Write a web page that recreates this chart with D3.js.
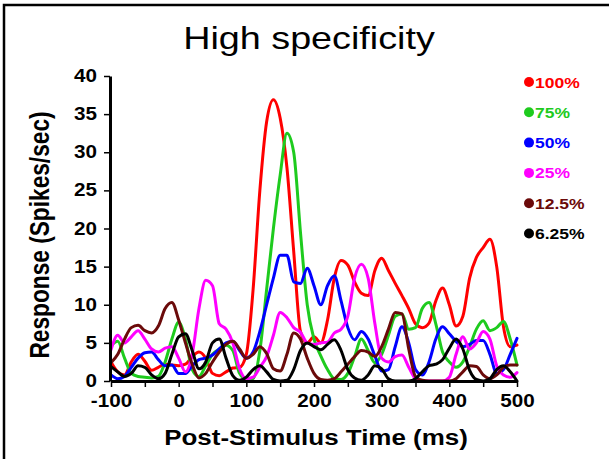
<!DOCTYPE html>
<html><head><meta charset="utf-8">
<script src="https://cdn.jsdelivr.net/npm/d3@7"></script>
<style>body{margin:0;background:#fff}svg{display:block}</style>
</head><body>
<script>
const times = d3.range(-100, 501, 10);
const seriesNames = ["100%", "75%", "50%", "25%", "12.5%", "6.25%"];
const seriesColors = ["#ff0000", "#1ecb1e", "#0000ff", "#ff00ff", "#6b0a0a", "#000000"];
const red100 = [2.5,1.2,0.8,2.5,3.5,2.6,1.4,1.8,2.2,2.1,2.0,2.2,3.2,3.8,3.0,1.0,0.7,1.2,1.7,1.8,3.5,12,25,34,36.9,34.5,28,17,6.5,5.0,5.8,5.0,8,13.5,15.8,15.2,13,11.5,11.2,14.5,16.1,14.5,12.8,11.2,9.5,7.5,7.0,7.6,10.5,12.2,10,7.2,8.5,13.5,16.2,17.5,18.6,15,7.1,4.5,4.7];
const green75 = [4.6,5.2,3.0,1.0,0.6,0.5,0.4,0.6,2.5,5.5,7.7,5.5,1.5,0.6,2.0,3.5,4.2,4.7,4.0,1.0,0.2,0.3,4,12,20,27,32.5,30,19.5,10,5.5,3.3,1.5,0.3,0.2,1.0,3.2,5.5,4.0,2.4,3.5,6.0,8.5,8.8,6.8,7.0,9.5,10.3,7.5,3.8,2.5,1.8,2.5,4.5,6.8,7.9,6.6,7.0,7.8,5.5,2.1];
const blue50 = [0.8,0.3,0.6,1.8,3.0,3.7,3.8,2.8,2.0,2.1,1.0,1.0,2.0,2.8,3.0,3.4,4.2,5.0,5.2,4.0,3.0,3.8,6.5,10,13.5,16.5,16.5,13,12.8,14.8,12.5,10,12.5,13.8,10.5,7.0,5.4,6.5,5.5,3.3,1.3,1.5,4.5,7.1,5.0,1.5,0.8,2.5,5.5,7.1,6.2,5.2,4.5,4.8,5.3,5.3,3.5,1.0,1.5,3.5,5.6];
const magenta25 = [4.1,6.0,5.0,5.8,6.6,5.5,4.2,3.8,4.3,4.5,3.0,1.2,3.5,9.5,13.2,12.5,7.5,6.8,5.0,1.6,0.3,0.5,1.8,3.2,6.0,9.0,8.3,7.0,6.4,5.0,4.8,5.0,5.1,6.3,6.8,8.5,13.5,15.3,13.5,7.5,3.0,2.5,3.2,3.4,1.8,0.3,0,0,0,0,0.5,3.5,5.8,4.2,5.0,6.5,5.5,2.0,0.8,0.5,1.1];
const darkred125 = [2.4,3.5,5.5,7.0,7.3,6.6,6.3,7.2,9.5,10.3,8.0,5.0,2.2,0.4,1.0,2.5,3.8,4.8,5.2,4.2,3.0,3.5,4.5,3.6,1.6,1.3,3.5,6.3,5.5,3.0,1.0,0.2,0.1,0.3,1.2,2.2,3.2,4.0,3.8,3.2,4.5,6.8,9.0,8.8,4.2,0.6,0.1,0,0,0,0,0.3,1.2,2.0,1.9,0.8,0.3,0.8,1.8,2.1,2.1];
const black625 = [1.9,1.2,0.6,1.0,2.0,1.8,0.8,0.3,1.0,3.5,5.8,6.2,4.0,1.6,2.5,5.0,5.5,3.0,0.7,0.1,0.5,1.5,2.0,1.2,0.2,0,0.1,1.5,4.0,5.0,4.5,4.1,4.8,5.4,4.0,1.5,0.4,0.1,0.8,2.0,1.6,0.3,0,0,0,0.3,1.2,2.0,2.2,2.8,4.3,5.5,4.2,1.4,0.2,0,0.3,1.5,2.0,1.2,0];
const xTicks = [-100,-50,0,50,100,150,200,250,300,350,400,450,500];
const xTickLabels = [-100,0,100,200,300,400,500];
const yTicks = [0,5,10,15,20,25,30,35,40];

const allSeries = [red100, green75, blue50, magenta25, darkred125, black625];

const W = 609, H = 459;
const SX = 1.18; // horizontal stretch of the text in the reference
const svg = d3.select("body").append("svg").attr("width", W).attr("height", H);
svg.append("rect").attr("width", W).attr("height", H).attr("fill", "#fff");
// frame
svg.append("rect").attr("x", 4).attr("y", 5).attr("width", 700).attr("height", 600)
  .attr("fill", "none").attr("stroke", "#000").attr("stroke-width", 2.5);

const x = d3.scaleLinear().domain([-100, 500]).range([111, 517]);
const y = d3.scaleLinear().domain([0, 40]).range([381, 76]);

const line = d3.line().x((d, i) => x(times[i])).y(d => y(d)).curve(d3.curveMonotoneX);

const gLines = svg.append("g");
allSeries.forEach((s, k) => {
  gLines.append("path").datum(s).attr("d", line)
    .attr("fill", "none").attr("stroke", seriesColors[k]).attr("stroke-width", 3)
    .attr("stroke-linejoin", "round").attr("stroke-linecap", "round");
});

const font = "Liberation Sans, Arial, Helvetica, sans-serif";
// x axis
const xAxis = d3.axisBottom(x).tickValues(xTicks).tickSize(6).tickSizeOuter(0)
  .tickFormat(d => xTickLabels.includes(d) ? d : "");
const gx = svg.append("g").attr("transform", `translate(0,${y(0)})`).call(xAxis);
gx.select(".domain").attr("stroke-width", 3);
gx.selectAll(".tick line").attr("stroke-width", 1.5);
gx.selectAll(".tick text").attr("font-family", font).attr("font-weight", "bold")
  .attr("font-size", 17.5).attr("fill", "#000").attr("dy", "0.95em")
  .attr("transform", `scale(${SX},1)`);

const yAxis = d3.axisLeft(y).tickValues(yTicks).tickSize(6).tickSizeOuter(0);
const gy = svg.append("g").attr("transform", `translate(${x(-100) - 1},0)`).call(yAxis);
gy.select(".domain").attr("stroke-width", 3);
gy.selectAll(".tick line").attr("stroke-width", 1.5);
gy.selectAll(".tick text").attr("font-family", font).attr("font-weight", "bold")
  .attr("font-size", 17.5).attr("fill", "#000").attr("x", -13 / SX)
  .attr("transform", `scale(${SX},1)`);

// titles
svg.append("text").attr("transform", `translate(309,48.5) scale(${SX},1)`).attr("text-anchor", "middle")
  .attr("font-family", font).attr("font-size", 32).text("High specificity");
svg.append("text").attr("transform", `translate(316,445) scale(${SX},1)`).attr("text-anchor", "middle")
  .attr("font-family", font).attr("font-weight", "bold").attr("font-size", 22)
  .text("Post-Stimulus Time (ms)");
svg.append("text").attr("transform", `translate(49,235) scale(${SX},1) rotate(-90)`).attr("text-anchor", "middle")
  .attr("font-family", font).attr("font-weight", "bold").attr("font-size", 22.7)
  .text("Response (Spikes/sec)");

// legend
const leg = svg.append("g");
seriesNames.forEach((n, i) => {
  const yy = 82 + i * 30.3;
  leg.append("circle").attr("cx", 529).attr("cy", yy).attr("r", 5).attr("fill", seriesColors[i]);
  leg.append("text").attr("transform", `translate(535,${yy + 5.5}) scale(1.13,1)`).attr("font-family", font)
    .attr("font-weight", "bold").attr("font-size", 15.5).attr("fill", seriesColors[i]).text(n);
});
</script>
</body></html>
